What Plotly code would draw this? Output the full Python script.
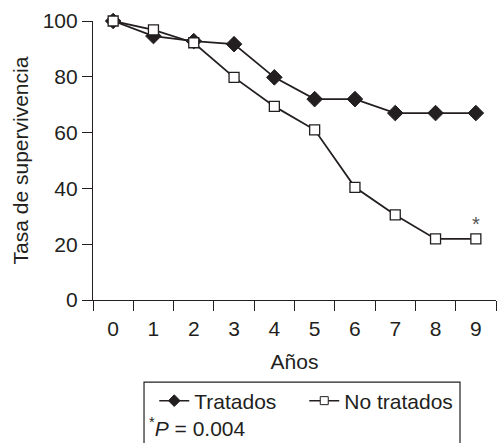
import plotly.graph_objects as go

years = ["0", "1", "2", "3", "4", "5", "6", "7", "8", "9"]
tratados = [100, 94.6, 92.8, 91.7, 79.8, 72.0, 72.0, 67.0, 67.0, 67.0]
no_tratados = [100, 96.8, 92.2, 79.8, 69.4, 61.0, 40.4, 30.5, 21.9, 21.9]
y_ticks = [0, 20, 40, 60, 80, 100]

FONT = "Liberation Sans, Arial, sans-serif"
INK = "#231f20"

fig = go.Figure()
fig.add_trace(go.Scatter(
    x=years, y=tratados, name="Tratados", mode="lines+markers", showlegend=False,
    line=dict(color=INK, width=1.8),
    marker=dict(symbol="diamond", size=12, color=INK, line=dict(color=INK, width=1)),
    cliponaxis=False,
))
fig.add_trace(go.Scatter(
    x=years, y=no_tratados, name="No tratados", mode="lines+markers", showlegend=False,
    line=dict(color=INK, width=1.8),
    marker=dict(symbol="square", size=10, color="white", line=dict(color=INK, width=1.3)),
    cliponaxis=False,
))
# legend entries with smaller symbols
fig.add_trace(go.Scatter(
    x=[None], y=[None], name="Tratados", mode="lines+markers",
    line=dict(color=INK, width=1.5),
    marker=dict(symbol="diamond", size=9, color=INK, line=dict(color=INK, width=1)),
))
fig.add_trace(go.Scatter(
    x=[None], y=[None], name="No tratados", mode="lines+markers",
    line=dict(color=INK, width=1.5),
    marker=dict(symbol="square", size=8, color="white", line=dict(color=INK, width=1)),
))

fig.add_annotation(x=years[-1], y=no_tratados[-1], text="*", showarrow=False,
                   yshift=15, font=dict(family=FONT, size=20, color="#555"))

fig.add_annotation(xref="paper", yref="paper", x=0.133, y=-0.456, xanchor="left", yanchor="middle",
                   text="<sup>*</sup><i>P</i> = 0.004", showarrow=False,
                   font=dict(family=FONT, size=21, color=INK))

fig.add_shape(type="rect", xref="paper", yref="paper",
              x0=0.1266, x1=0.9107, y0=-0.294, y1=-0.60,
              line=dict(color=INK, width=1.2), fillcolor="rgba(0,0,0,0)")

fig.update_layout(
    width=497, height=443,
    margin=dict(l=93, r=1, t=21, b=143),
    paper_bgcolor="white", plot_bgcolor="white",
    font=dict(family=FONT, color=INK, size=21),
    showlegend=True,
    legend=dict(orientation="h", x=0.152, y=-0.362, xanchor="left", yanchor="middle",
                font=dict(family=FONT, size=21, color=INK),
                entrywidth=105, entrywidthmode="pixels",
                bgcolor="rgba(0,0,0,0)", borderwidth=0, itemsizing="trace"),
    xaxis=dict(
        type="category", range=[-0.5, 9.5], tickson="boundaries",
        showline=True, linecolor=INK, linewidth=1.2,
        ticks="outside", ticklen=10, tickcolor=INK, tickwidth=1.2,
        showgrid=False, zeroline=False, ticklabelstandoff=10,
        tickfont=dict(family=FONT, size=21, color=INK),
        title=dict(text="Años", font=dict(family=FONT, size=21, color=INK), standoff=15),
    ),
    yaxis=dict(
        range=[0, 100], tickvals=y_ticks,
        showline=True, linecolor=INK, linewidth=1.2,
        ticks="outside", ticklen=10, tickcolor=INK, tickwidth=1.2,
        showgrid=False, zeroline=False,
        tickfont=dict(family=FONT, size=21, color=INK),
        title=dict(text="Tasa de supervivencia", font=dict(family=FONT, size=21, color=INK), standoff=8),
    ),
)

fig.write_html("out.html")
